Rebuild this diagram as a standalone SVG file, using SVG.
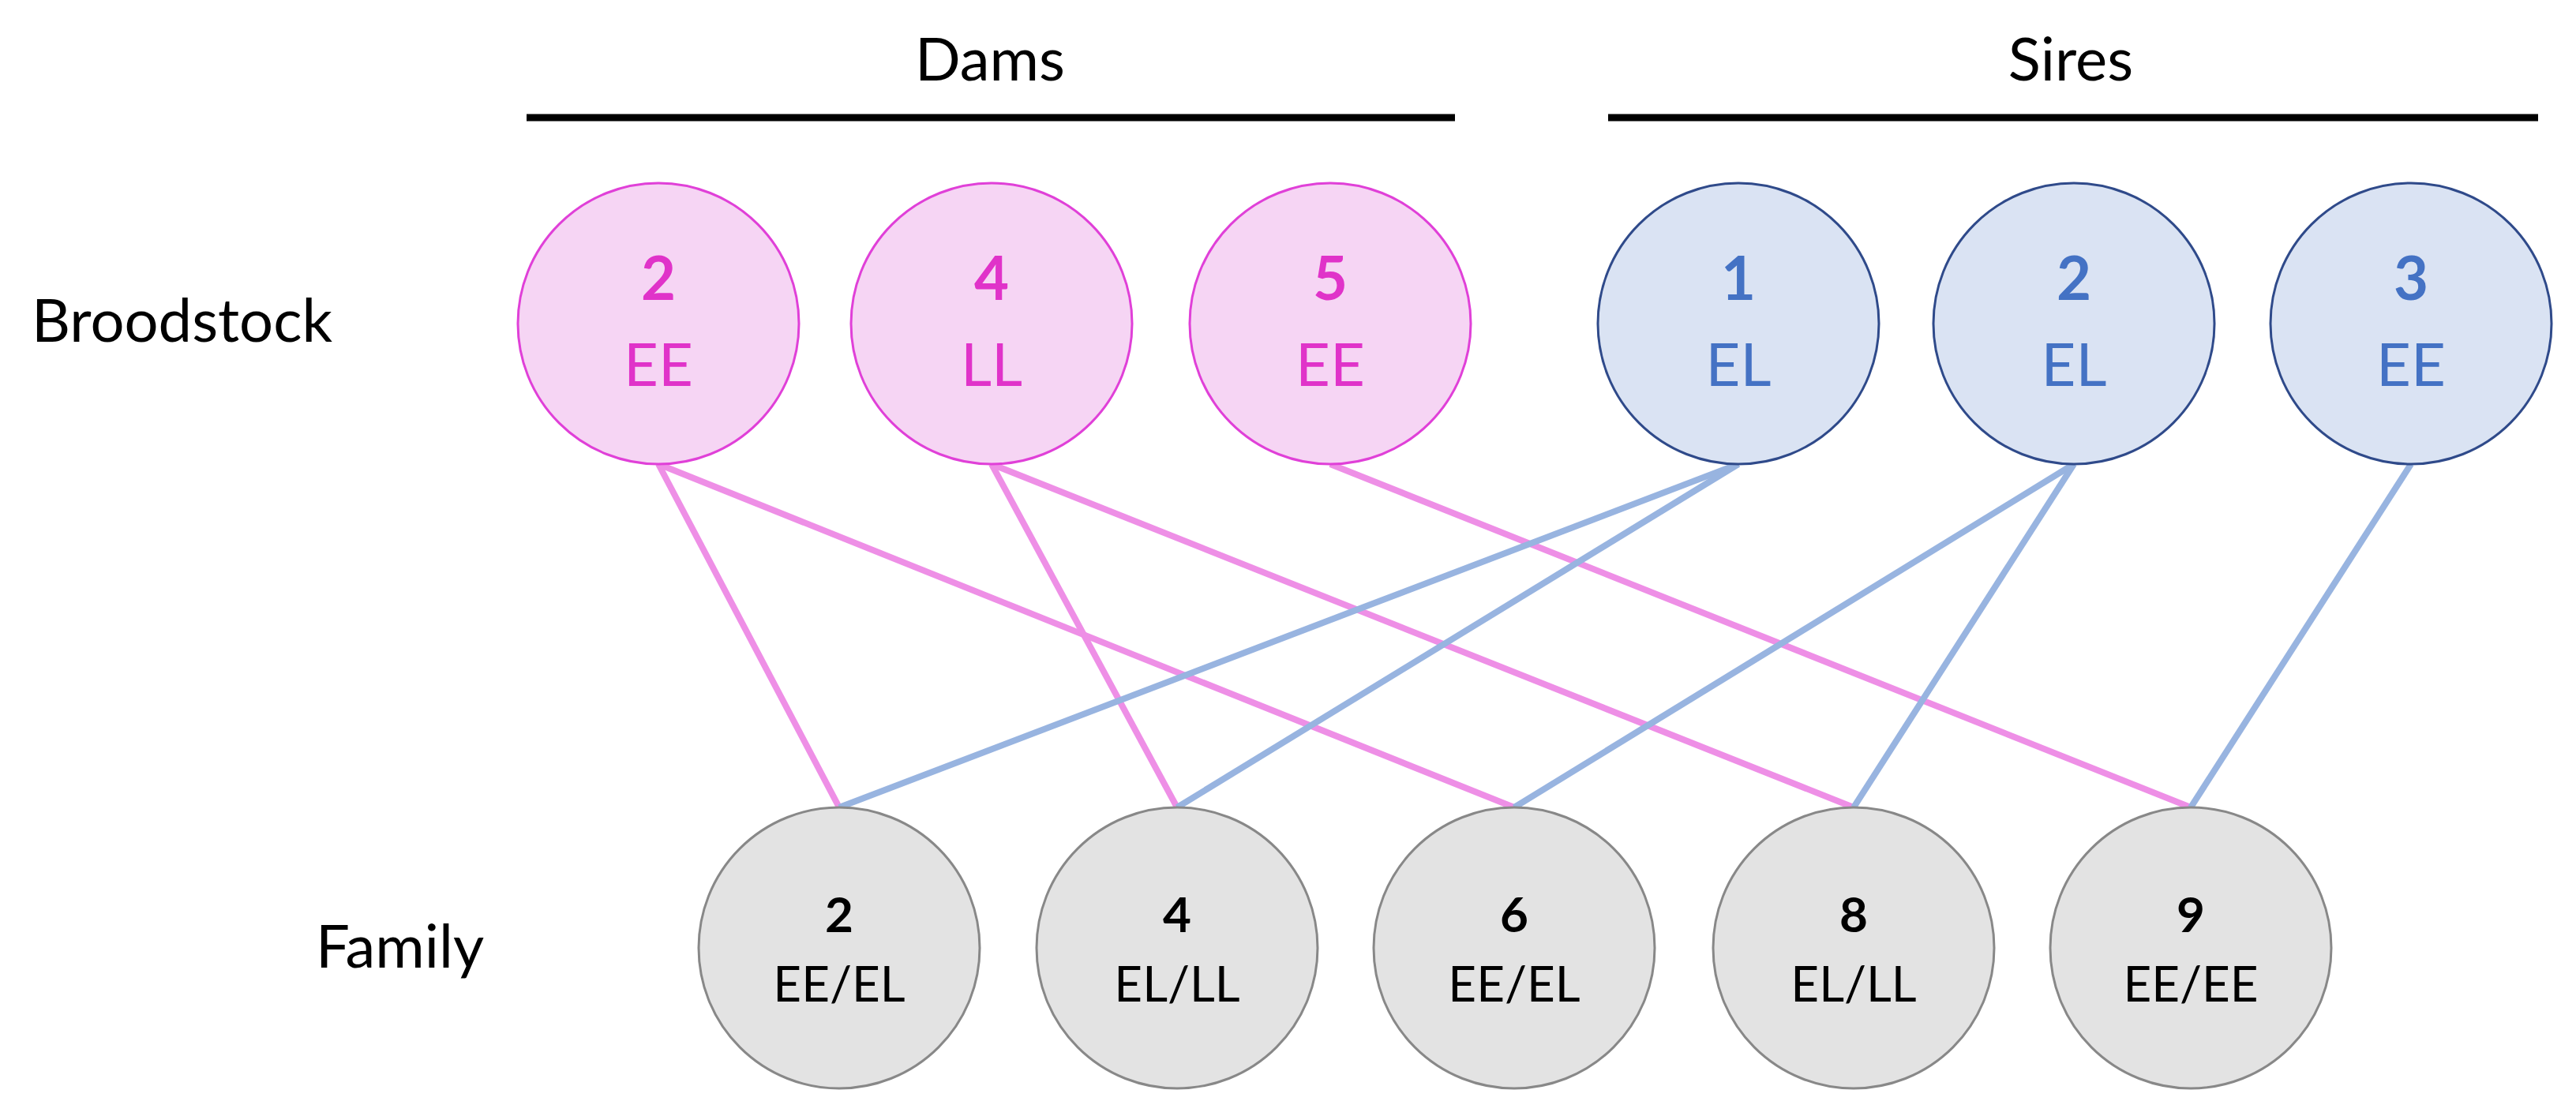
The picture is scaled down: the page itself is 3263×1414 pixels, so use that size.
<svg xmlns="http://www.w3.org/2000/svg" width="3263" height="1414" viewBox="0 0 3263 1414">
<style>
text{font-family:Lato,"Open Sans","Liberation Sans",sans-serif;text-anchor:middle}
.lbl{font-size:76px;fill:#000}
.dam{fill:#F6D5F4;stroke:#E040D8;stroke-width:3}
.sire{fill:#DAE3F3;stroke:#2F4A8A;stroke-width:3}
.fam{fill:#E3E3E3;stroke:#888;stroke-width:3}
.dt{fill:#E033C9;font-size:76px}
.st{fill:#4472C4;font-size:76px}
.ft{fill:#000;font-size:62px}
.b{font-weight:bold}
.pl{stroke:#EE8FE6;stroke-width:8}
.bl{stroke:#98B4E0;stroke-width:8}
</style>
<rect width="3263" height="1414" fill="#fff"/>
<g id="headers">
<text class="lbl" x="1254" y="102">Dams</text>
<text class="lbl" x="2623" y="102">Sires</text>
<line x1="667" y1="149" x2="1843" y2="149" stroke="#000" stroke-width="9"/>
<line x1="2037" y1="149" x2="3215" y2="149" stroke="#000" stroke-width="9"/>
<text class="lbl" x="40" y="433" style="text-anchor:start">Broodstock</text>
<text class="lbl" x="400" y="1226" style="text-anchor:start">Family</text>
</g>
<g id="connectors" fill="none">
<line class="pl" x1="834" y1="588" x2="1063" y2="1023"/>
<line class="pl" x1="834" y1="588" x2="1918" y2="1023"/>
<line class="pl" x1="1256" y1="588" x2="1491" y2="1023"/>
<line class="pl" x1="1256" y1="588" x2="2348" y2="1023"/>
<line class="pl" x1="1685" y1="588" x2="2775" y2="1023"/>
<line class="bl" x1="2202" y1="588" x2="1063" y2="1023"/>
<line class="bl" x1="2202" y1="588" x2="1491" y2="1023"/>
<line class="bl" x1="2627" y1="588" x2="1918" y2="1023"/>
<line class="bl" x1="2627" y1="588" x2="2348" y2="1023"/>
<line class="bl" x1="3054" y1="588" x2="2775" y2="1023"/>
</g>
<g id="dam2"><circle class="dam" cx="834" cy="410" r="178"/><text class="dt b" x="834" y="380">2</text><text class="dt" x="834" y="489">EE</text></g>
<g id="dam4"><circle class="dam" cx="1256" cy="410" r="178"/><text class="dt b" x="1256" y="380">4</text><text class="dt" x="1256" y="489">LL</text></g>
<g id="dam5"><circle class="dam" cx="1685" cy="410" r="178"/><text class="dt b" x="1685" y="380">5</text><text class="dt" x="1685" y="489">EE</text></g>
<g id="sire1"><circle class="sire" cx="2202" cy="410" r="178"/><text class="st b" x="2202" y="380">1</text><text class="st" x="2202" y="489">EL</text></g>
<g id="sire2"><circle class="sire" cx="2627" cy="410" r="178"/><text class="st b" x="2627" y="380">2</text><text class="st" x="2627" y="489">EL</text></g>
<g id="sire3"><circle class="sire" cx="3054" cy="410" r="178"/><text class="st b" x="3054" y="380">3</text><text class="st" x="3054" y="489">EE</text></g>
<g id="fam2"><circle class="fam" cx="1063" cy="1201" r="178"/><text class="ft b" x="1063" y="1181">2</text><text class="ft" x="1063" y="1269">EE/EL</text></g>
<g id="fam4"><circle class="fam" cx="1491" cy="1201" r="178"/><text class="ft b" x="1491" y="1181">4</text><text class="ft" x="1491" y="1269">EL/LL</text></g>
<g id="fam6"><circle class="fam" cx="1918" cy="1201" r="178"/><text class="ft b" x="1918" y="1181">6</text><text class="ft" x="1918" y="1269">EE/EL</text></g>
<g id="fam8"><circle class="fam" cx="2348" cy="1201" r="178"/><text class="ft b" x="2348" y="1181">8</text><text class="ft" x="2348" y="1269">EL/LL</text></g>
<g id="fam9"><circle class="fam" cx="2775" cy="1201" r="178"/><text class="ft b" x="2775" y="1181">9</text><text class="ft" x="2775" y="1269">EE/EE</text></g>
</svg>
